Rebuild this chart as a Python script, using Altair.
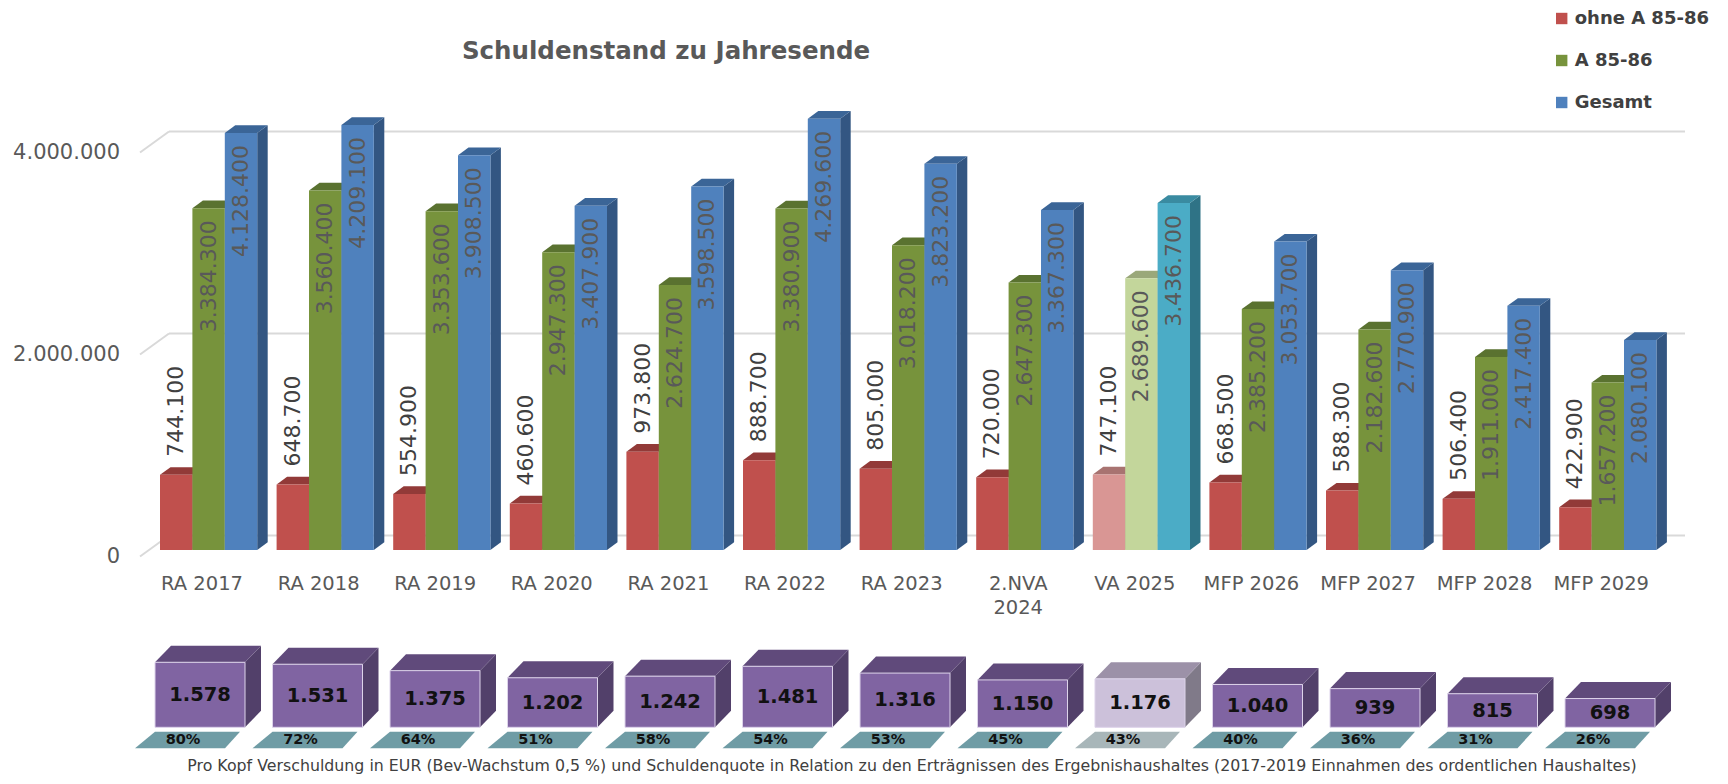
import altair as alt
import pandas as pd

# ---------------- data ----------------
CATEGORIES = ["RA 2017", "RA 2018", "RA 2019", "RA 2020", "RA 2021", "RA 2022", "RA 2023",
              "2.NVA\n2024", "VA 2025", "MFP 2026", "MFP 2027", "MFP 2028", "MFP 2029"]
SERIES = ["ohne A 85-86", "A 85-86", "Gesamt"]
OHNE_A8586 = [744100, 648700, 554900, 460600, 973800, 888700, 805000, 720000, 747100, 668500, 588300, 506400, 422900]
A8586 = [3384300, 3560400, 3353600, 2947300, 2624700, 3380900, 3018200, 2647300, 2689600, 2385200, 2182600, 1911000, 1657200]
GESAMT = [4128400, 4209100, 3908500, 3407900, 3598500, 4269600, 3823200, 3367300, 3436700, 3053700, 2770900, 2417400, 2080100]
PRO_KOPF = [1578, 1531, 1375, 1202, 1242, 1481, 1316, 1150, 1176, 1040, 939, 815, 698]
QUOTE = [80, 72, 64, 51, 58, 54, 53, 45, 43, 40, 36, 31, 26]
Y_TICKS = [0, 2000000, 4000000]
HIGHLIGHT = "VA 2025"
TITLE = "Schuldenstand zu Jahresende"
FOOTNOTE = ("Pro Kopf Verschuldung in EUR (Bev-Wachstum 0,5 %) und Schuldenquote in Relation zu den "
            "Erträgnissen des Ergebnishaushaltes (2017-2019 Einnahmen des ordentlichen Haushaltes)")

# ---------------- styles ----------------
FONT = "DejaVu Sans"
PALETTE = {
    "ohne A 85-86": "#c0504d", "ohne A 85-86 oben": "#923a38", "ohne A 85-86 Seite": "#8a3533",
    "A 85-86": "#77933c", "A 85-86 oben": "#5a7230", "A 85-86 Seite": "#4f6329",
    "Gesamt": "#4f81bd", "Gesamt oben": "#3b6597", "Gesamt Seite": "#335682",
    "ohne A 85-86 VA": "#d99694", "ohne A 85-86 VA oben": "#a87371", "ohne A 85-86 VA Seite": "#9c6866",
    "A 85-86 VA": "#c3d69b", "A 85-86 VA oben": "#9aa87a", "A 85-86 VA Seite": "#8d9b6e",
    "Gesamt VA": "#4bacc6", "Gesamt VA oben": "#3a8ba1", "Gesamt VA Seite": "#2f7386",
    "Kopf": "#8064a2", "Kopf oben": "#604a7b", "Kopf Seite": "#52406a",
    "Kopf VA": "#ccc1da", "Kopf VA oben": "#9c91a8", "Kopf VA Seite": "#807a89",
    "Quote": "#6f9ca5", "Quote VA": "#a8b6b9",
}

# ---------------- layout (pixels) ----------------
W, H = 1710, 768
T_LEFT, T_STEP = 152.0, 116.6          # first bar group left edge, group spacing
T_BW, T_DX, T_DY = 32.4, 10.5, 7.7     # bar width, 3d depth
T_BASE, T_PXM = 542.0, 101.0           # baseline, px per million
B_LEFT, B_STEP = 147.0, 117.5
B_CW, B_DX, B_DY = 90.0, 16.0, 16.5
B_BASE, B_PXE = 719.3, 0.0412          # baseline, px per EUR


def de(n):
    return f"{n:,}".replace(",", ".")


def tu(px):  # top x px -> units
    return (px - T_LEFT) / T_STEP


def bu(px):
    return (px - B_LEFT) / B_STEP


XT = alt.Scale(domain=[tu(0), tu(W)], range=[0, W], nice=False, zero=False)
YT = alt.Scale(domain=[0, 5e6], range=[T_BASE, T_BASE - 5 * T_PXM], nice=False, zero=False)
XB = alt.Scale(domain=[bu(0), bu(W)], range=[0, W], nice=False, zero=False)
YB = alt.Scale(domain=[-600, 2000], range=[B_BASE + 600 * B_PXE, B_BASE - 2000 * B_PXE], nice=False, zero=False)
CS = alt.Scale(domain=list(PALETTE.keys()), range=list(PALETTE.values()))

# ---------------- tables ----------------
vals = {"ohne A 85-86": OHNE_A8586, "A 85-86": A8586, "Gesamt": GESAMT}
bw, dx = T_BW / T_STEP, T_DX / T_STEP
dyv = T_DY / T_PXM * 1e6
front, top, side, labs, cats = [], [], [], [], []
for i, cat in enumerate(CATEGORIES):
    va = cat == HIGHLIGHT
    cats.append(dict(x=i + 42 / T_STEP, v=0, txt=cat))
    for k, s in enumerate(SERIES):
        v = vals[s][i]
        key = s + (" VA" if va else "")
        x0 = i + k * bw
        x1 = x0 + bw
        fid = f"{i}-{k}"
        front.append(dict(x0=x0, x1=x1, v=v, zero=0, key=key))
        top += [dict(fid=fid, y=v, xa=x0, xb=x1, key=key + " oben"),
                dict(fid=fid, y=v + dyv, xa=x0 + dx, xb=x1 + dx, key=key + " oben")]
        side += [dict(fid=fid, x=x1, ya=v, yb=0, key=key + " Seite"),
                 dict(fid=fid, x=x1 + dx, ya=v + dyv, yb=dyv, key=key + " Seite")]
        labs.append(dict(x=x0 + bw / 2, v=v, txt=de(v), k=k))
df_front, df_top, df_side = pd.DataFrame(front), pd.DataFrame(top), pd.DataFrame(side)
df_lab = pd.DataFrame(labs)
df_cat = pd.DataFrame(cats)
df_grid = pd.DataFrame(dict(v=Y_TICKS, txt=[de(v) for v in Y_TICKS],
                            gx0=tu(161), gx1=tu(1677), dx0=tu(132), lx=tu(112)))

cw, cdx = B_CW / B_STEP, B_DX / B_STEP
cdy = B_DY / B_PXE
t_top, t_bot = -4.4 / B_PXE, -21.0 / B_PXE
cf, ct, csd, tiles, clab = [], [], [], [], []
for i, cat in enumerate(CATEGORIES):
    va = cat == HIGHLIGHT
    v = PRO_KOPF[i]
    key = "Kopf" + (" VA" if va else "")
    L = float(i)
    cf.append(dict(x0=L, x1=L + cw, v=v, zero=0, key=key))
    ct += [dict(fid=i, y=v, xa=L, xb=L + cw, key=key + " oben"),
           dict(fid=i, y=v + cdy, xa=L + cdx, xb=L + cw + cdx, key=key + " oben")]
    csd += [dict(fid=i, x=L + cw, ya=v, yb=0, key=key + " Seite"),
            dict(fid=i, x=L + cw + cdx, ya=v + cdy, yb=cdy, key=key + " Seite")]
    qk = "Quote" + (" VA" if va else "")
    tiles += [dict(fid=i, y=t_top, xa=L, xb=L + 85 / B_STEP, key=qk),
              dict(fid=i, y=t_bot, xa=L - 20 / B_STEP, xb=L + 70 / B_STEP, key=qk)]
    clab.append(dict(xc=L + cw / 2, yc=v / 2, txt=de(v), qx=L + 28 / B_STEP,
                     qy=(B_BASE - 732) / B_PXE, q=f"{QUOTE[i]}%"))
df_cf, df_ct, df_cs = pd.DataFrame(cf), pd.DataFrame(ct), pd.DataFrame(csd)
df_tiles, df_clab = pd.DataFrame(tiles), pd.DataFrame(clab)


def col(legend=None):
    return alt.Color("key:N", scale=CS, legend=legend)


LEG = alt.Legend(values=SERIES, orient="none", legendX=1544.7, legendY=1.5, title=None,
                 symbolType="square", symbolSize=130, symbolStrokeWidth=0,
                 labelFont=FONT, labelFontSize=18, labelFontWeight="bold", labelColor="#404040",
                 rowPadding=24, labelOffset=4, padding=0, labelLimit=300)

# ---------------- layers: top chart ----------------
grid_h = alt.Chart(df_grid).mark_rule(color="#d9d9d9", strokeWidth=2, yOffset=-14.5).encode(
    x=alt.X("gx0:Q", scale=XT, axis=None), x2="gx1:Q", y=alt.Y("v:Q", scale=YT, axis=None))
grid_d = alt.Chart(df_grid).mark_rule(color="#d9d9d9", strokeWidth=2, yOffset=6.5, y2Offset=-14.5).encode(
    x=alt.X("dx0:Q", scale=XT, axis=None), x2="gx0:Q", y=alt.Y("v:Q", scale=YT, axis=None), y2="v:Q")
ylab = alt.Chart(df_grid).mark_text(align="right", baseline="middle", fontSize=21, color="#595959",
                                    yOffset=6.5).encode(
    x=alt.X("lx:Q", scale=XT, axis=None), y=alt.Y("v:Q", scale=YT, axis=None), text="txt:N")

side_l = alt.Chart(df_side).mark_area(opacity=1).encode(
    x=alt.X("x:Q", scale=XT, axis=None), y=alt.Y("ya:Q", scale=YT, axis=None, stack=None), y2="yb:Q",
    detail="fid:N", color=col())
top_l = alt.Chart(df_top).mark_area(opacity=1, orient="horizontal").encode(
    y=alt.Y("y:Q", scale=YT, axis=None), x=alt.X("xa:Q", scale=XT, axis=None, stack=None), x2="xb:Q",
    detail="fid:N", color=col())
front_l = alt.Chart(df_front).mark_rect(opacity=1).encode(
    x=alt.X("x0:Q", scale=XT, axis=None), x2="x1:Q",
    y=alt.Y("v:Q", scale=YT, axis=None), y2="zero:Q", color=col(LEG))

lab_out = alt.Chart(df_lab).transform_filter("datum.k == 0").mark_text(
    angle=270, align="left", baseline="middle", fontSize=22, color="#404040", yOffset=-18).encode(
    x=alt.X("x:Q", scale=XT, axis=None), y=alt.Y("v:Q", scale=YT, axis=None), text="txt:N")
lab_in = alt.Chart(df_lab).transform_filter("datum.k > 0").mark_text(
    angle=270, align="right", baseline="middle", fontSize=22, color="#595959", yOffset=12).encode(
    x=alt.X("x:Q", scale=XT, axis=None), y=alt.Y("v:Q", scale=YT, axis=None), text="txt:N")
xlab = alt.Chart(df_cat).mark_text(align="center", baseline="top", fontSize=19.5, color="#595959",
                                   lineBreak="\n", lineHeight=24, yOffset=25).encode(
    x=alt.X("x:Q", scale=XT, axis=None), y=alt.Y("v:Q", scale=YT, axis=None), text="txt:N")

title_l = alt.Chart(pd.DataFrame(dict(t=[TITLE]))).mark_text(
    fontSize=24.5, fontWeight="bold", color="#595959", align="center", baseline="middle").encode(
    x=alt.value(658), y=alt.value(44), text="t:N")

# ---------------- layers: bottom cubes ----------------
c_side = alt.Chart(df_cs).mark_area(opacity=1).encode(
    x=alt.X("x:Q", scale=XB, axis=None), y=alt.Y("ya:Q", scale=YB, axis=None, stack=None), y2="yb:Q",
    detail="fid:N", color=col())
c_top = alt.Chart(df_ct).mark_area(opacity=1, orient="horizontal").encode(
    y=alt.Y("y:Q", scale=YB, axis=None), x=alt.X("xa:Q", scale=XB, axis=None, stack=None), x2="xb:Q",
    detail="fid:N", color=col())
c_front = alt.Chart(df_cf).mark_rect(opacity=1, stroke="#ddd3ea", strokeWidth=1).encode(
    x=alt.X("x0:Q", scale=XB, axis=None), x2="x1:Q",
    y=alt.Y("v:Q", scale=YB, axis=None), y2="zero:Q", color=col())
c_tile = alt.Chart(df_tiles).mark_area(opacity=1, orient="horizontal").encode(
    y=alt.Y("y:Q", scale=YB, axis=None), x=alt.X("xa:Q", scale=XB, axis=None, stack=None), x2="xb:Q",
    detail="fid:N", color=col())
c_num = alt.Chart(df_clab).mark_text(fontSize=19.5, fontWeight="bold", color="#111111",
                                     align="center", baseline="middle").encode(
    x=alt.X("xc:Q", scale=XB, axis=None), y=alt.Y("yc:Q", scale=YB, axis=None), text="txt:N")
c_q = alt.Chart(df_clab).mark_text(fontSize=14.5, fontWeight="bold", color="#111111",
                                   align="center", baseline="middle").encode(
    x=alt.X("qx:Q", scale=XB, axis=None), y=alt.Y("qy:Q", scale=YB, axis=None), text="q:N")
foot = alt.Chart(pd.DataFrame(dict(t=[FOOTNOTE]))).mark_text(
    fontSize=15.8, color="#404040", align="center", baseline="middle").encode(
    x=alt.value(904), y=alt.value(758), text="t:N")

chart = alt.layer(
    grid_h, grid_d, ylab, side_l, top_l, front_l, lab_out, lab_in, xlab, title_l,
    c_side, c_top, c_front, c_tile, c_num, c_q, foot
).resolve_scale(x="independent", y="independent", color="independent").properties(
    width=W, height=H, padding=0, autosize=alt.AutoSizeParams(type="none")
).configure(font=FONT).configure_view(stroke=None)

chart.save("out.html", embed_options={"renderer": "svg", "actions": False})
